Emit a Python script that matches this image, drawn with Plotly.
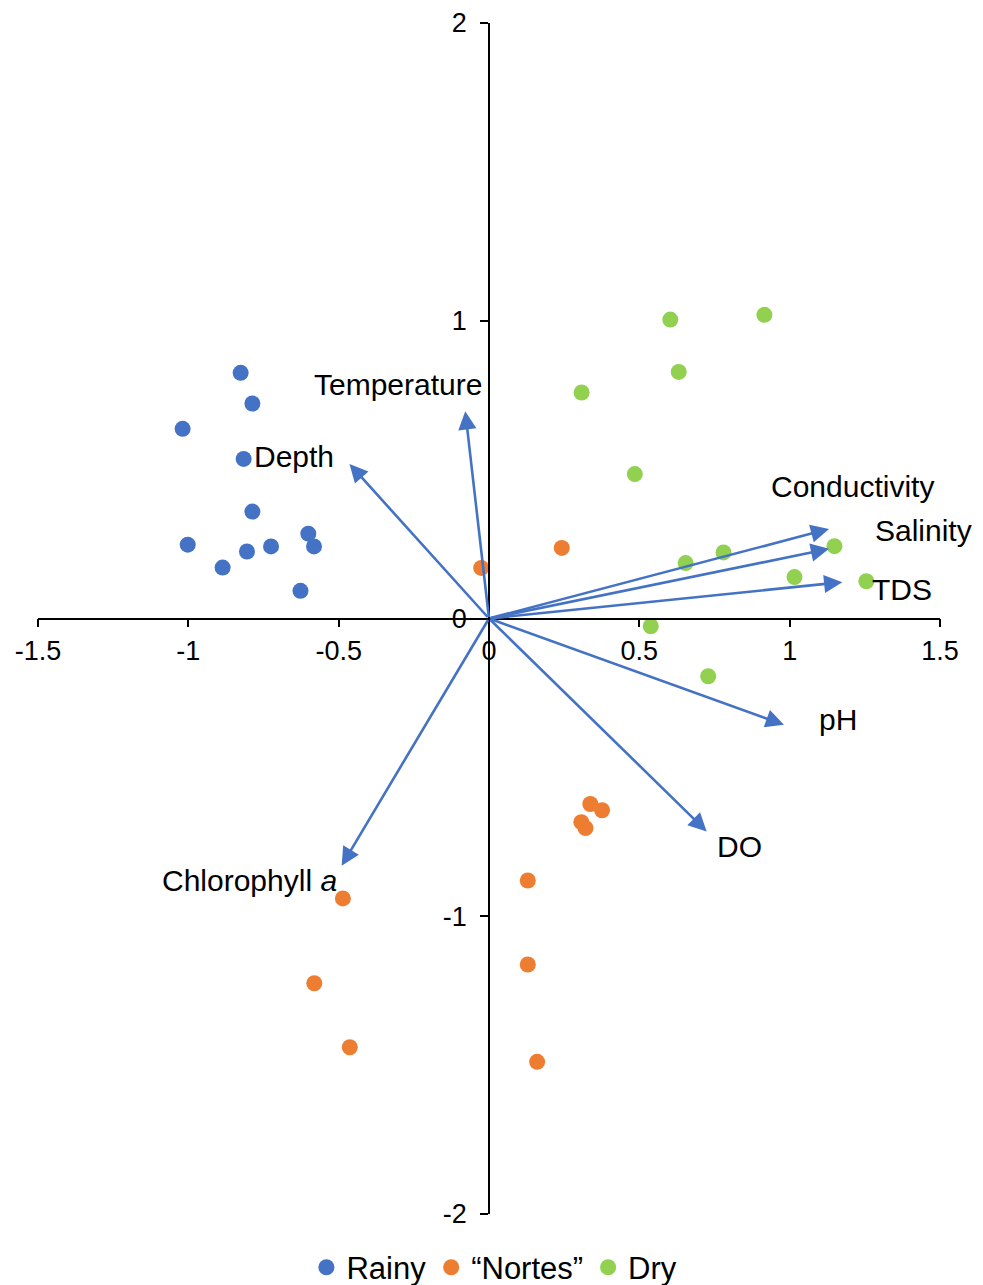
import plotly.graph_objects as go

# ---- data ----
rainy_x = [-1.019, -0.816, -0.787, -1.002, -0.805, -0.725, -0.601, -0.582, -0.886, -0.627, -0.826, -0.787]
rainy_y = [0.637, 0.536, 0.359, 0.248, 0.225, 0.242, 0.285, 0.242, 0.171, 0.093, 0.825, 0.722]

nortes_x = [-0.026, 0.242, -0.486, -0.581, -0.463, 0.337, 0.376, 0.307, 0.321, 0.129, 0.129, 0.160]
nortes_y = [0.170, 0.237, -0.940, -1.225, -1.440, -0.623, -0.644, -0.684, -0.704, -0.880, -1.162, -1.489]

dry_x = [0.603, 0.916, 0.631, 0.308, 0.485, 1.149, 0.780, 0.654, 1.016, 1.255, 0.538, 0.729]
dry_y = [1.004, 1.020, 0.828, 0.759, 0.485, 0.243, 0.222, 0.186, 0.139, 0.125, -0.026, -0.194]

var_names = ["Temperature", "Depth", "Conductivity", "Salinity", "TDS", "pH", "DO", "Chlorophyll <i>a</i>"]
var_x = [-0.079, -0.464, 1.131, 1.131, 1.175, 0.981, 0.724, -0.490]
var_y = [0.696, 0.519, 0.301, 0.234, 0.122, -0.357, -0.715, -0.830]

x_ticks = [-1.5, -1, -0.5, 0, 0.5, 1, 1.5]
x_tick_text = ["-1.5", "-1", "-0.5", "0", "0.5", "1", "1.5"]
y_ticks = [-2, -1, 0, 1, 2]
y_tick_text = ["-2", "-1", "0", "1", "2"]

# ---- styling ----
BLUE = "#4472C4"
ORANGE = "#ED7D31"
GREEN = "#92D050"
FONT = "Liberation Sans, Arial, sans-serif"
# pixel offsets of each variable label from its arrow tip (style, not data)
label_shift = [(-67, 27), (-55, 7), (23, 42), (94, 18), (60, -7), (54, 5), (33, -15), (-92, -15)]

fig = go.Figure()
for name, xs, ys, col in [("Rainy", rainy_x, rainy_y, BLUE),
                          ("\u201cNortes\u201d", nortes_x, nortes_y, ORANGE),
                          ("Dry", dry_x, dry_y, GREEN)]:
    fig.add_trace(go.Scatter(x=xs, y=ys, mode="markers", name=name,
                             marker=dict(color=col, size=16, line=dict(width=0))))

annotations = []
for nm, vx, vy, (dx, dy) in zip(var_names, var_x, var_y, label_shift):
    annotations.append(dict(x=vx, y=vy, ax=0, ay=0, xref="x", yref="y", axref="x", ayref="y",
                            text="", showarrow=True, arrowhead=2, arrowsize=1.4,
                            arrowwidth=2.6, arrowcolor=BLUE, standoff=0, startstandoff=0))
    annotations.append(dict(x=vx, y=vy, xref="x", yref="y", text=nm, showarrow=False,
                            xshift=dx, yshift=dy, font=dict(family=FONT, size=30, color="black"),
                            xanchor="center", yanchor="middle"))

fig.update_layout(
    width=983, height=1285,
    margin=dict(l=38, r=43, t=23, b=71, autoexpand=False),
    paper_bgcolor="white", plot_bgcolor="white",
    font=dict(family=FONT, color="black"),
    showlegend=True,
    legend=dict(orientation="h", x=0.506, xanchor="center", y=-0.045, yanchor="middle",
                font=dict(family=FONT, size=31, color="black"),
                bgcolor="rgba(0,0,0,0)"),
    annotations=annotations,
    xaxis=dict(range=[-1.5, 1.5], anchor="free", position=0.5, showgrid=False, zeroline=False,
               showline=True, linecolor="black", linewidth=1.6, ticks="outside", ticklen=8,
               tickwidth=1.6, tickcolor="black", tickvals=x_ticks, ticktext=x_tick_text,
               tickfont=dict(family=FONT, size=27, color="black"), ticklabelstandoff=0),
    yaxis=dict(range=[-2, 2], anchor="free", position=0.5, showgrid=False, zeroline=False,
               showline=True, linecolor="black", linewidth=1.6, ticks="outside", ticklen=8,
               tickwidth=1.6, tickcolor="black", tickvals=y_ticks, ticktext=y_tick_text,
               tickfont=dict(family=FONT, size=27, color="black"), ticklabelstandoff=8),
)

fig.write_html("out.html")
